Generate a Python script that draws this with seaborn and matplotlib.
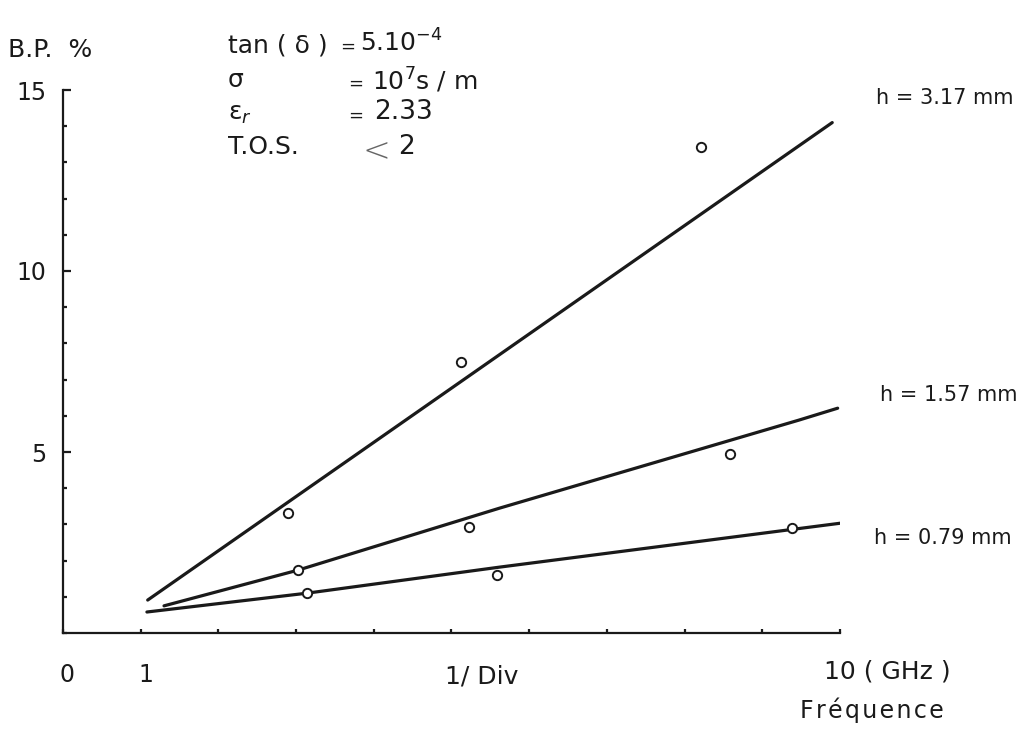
import matplotlib
matplotlib.use("Agg")
import matplotlib.pyplot as plt
from matplotlib.ticker import MultipleLocator
import seaborn as sns
import pandas as pd

# hand drawn trend lines (frequency in GHz, bandwidth in %)
thickness = ["h = 3.17 mm", "h = 1.57 mm", "h = 0.79 mm"]
line_f = [
    [1.09, 9.9],
    [1.3, 3.03, 5.62, 9.47, 9.97],
    [1.08, 3.14, 5.62, 10.03],
]
line_bp = [
    [0.91, 14.1],
    [0.75, 1.74, 3.45, 5.88, 6.21],
    [0.58, 1.10, 1.82, 3.04],
]

# measured points
meas_f = [
    [2.89, 5.12, 8.21],
    [3.03, 5.23, 8.59],
    [3.14, 5.59, 9.38],
]
meas_bp = [
    [3.31, 7.49, 13.43],
    [1.74, 2.93, 4.94],
    [1.10, 1.60, 2.90],
]

lines = pd.concat(
    [pd.DataFrame({"f": f, "bp": b, "h": h}) for f, b, h in zip(line_f, line_bp, thickness)],
    ignore_index=True,
)
pts = pd.concat(
    [pd.DataFrame({"f": f, "bp": b, "h": h}) for f, b, h in zip(meas_f, meas_bp, thickness)],
    ignore_index=True,
)

sns.set_style("white")
plt.rcParams["font.family"] = ["DejaVu Sans"]
plt.rcParams["mathtext.fontset"] = "dejavusans"
ink = "#1a1a1a"
plt.rcParams["text.color"] = ink

W, H = 1034, 730
fig = plt.figure(figsize=(W / 100, H / 100), dpi=100)
ax = fig.add_axes([63 / W, 97 / H, 777 / W, 543 / H])

sns.lineplot(data=lines, x="f", y="bp", hue="h", units="h", palette=[ink] * 3,
             estimator=None, sort=False, legend=False, linewidth=2.3, ax=ax)
sns.scatterplot(data=pts, x="f", y="bp", color="white", edgecolor=ink,
                s=45, linewidth=1.4, legend=False, zorder=3, ax=ax)

ax.set_xlim(0, 10)
ax.set_ylim(0, 15)
for s in ["top", "right"]:
    ax.spines[s].set_visible(False)
for s in ["left", "bottom"]:
    ax.spines[s].set_color(ink)
    ax.spines[s].set_linewidth(1.6)

ax.set_yticks([5, 10, 15])
ax.yaxis.set_minor_locator(MultipleLocator(1))
ax.set_xticks(range(0, 11))
ax.set_xticklabels([])
ax.tick_params(axis="y", which="major", direction="in", length=6, width=1.6,
               labelsize=17, pad=12, left=True, colors=ink)
ax.tick_params(axis="y", which="minor", direction="in", length=3, width=1.6, left=True, colors=ink)
ax.tick_params(axis="x", which="major", direction="in", length=3, width=1.6, bottom=True, colors=ink)
ax.set_xlabel("")
ax.set_ylabel("")


def px(x, y):
    return x / W, 1 - y / H


fs = 17
# x axis texts
fig.text(*px(67, 675), "0", fontsize=fs, ha="center", va="center")
fig.text(*px(146, 675), "1", fontsize=fs, ha="center", va="center")
fig.text(*px(482, 677), "1/ Div", fontsize=18, ha="center", va="center")
fig.text(*px(824, 672), "10 ( GHz )", fontsize=18, ha="left", va="center")
fig.text(*px(800, 710), "F\u200ar\u200aé\u200aq\u200au\u200ae\u200an\u200ac\u200ae",
         fontsize=17, ha="left", va="center")

# y axis title
fig.text(*px(8, 50), "B.P.  %", fontsize=18, ha="left", va="center")

# curve labels
fig.text(*px(876, 98), thickness[0], fontsize=15, ha="left", va="center")
fig.text(*px(880, 395), thickness[1], fontsize=15, ha="left", va="center")
fig.text(*px(874, 538), thickness[2], fontsize=15, ha="left", va="center")

# parameters block
pfs = 18
x0 = 228
fig.text(*px(x0, 45), "tan ( δ )", fontsize=pfs, ha="left", va="center")
fig.text(*px(340, 47), "=", fontsize=13, ha="left", va="center")
fig.text(*px(360, 43), r"5.10$^{-4}$", fontsize=pfs, ha="left", va="center")
fig.text(*px(x0, 80), "σ", fontsize=pfs, ha="left", va="center")
fig.text(*px(348, 84), "=", fontsize=13, ha="left", va="center")
fig.text(*px(372, 80), r"10$^{7}$s / m", fontsize=pfs, ha="left", va="center")
fig.text(*px(x0, 114), r"ε$_r$", fontsize=pfs, ha="left", va="center")
fig.text(*px(348, 116), "=", fontsize=13, ha="left", va="center")
fig.text(*px(374, 112), "2.33", fontsize=19, ha="left", va="center")
fig.text(*px(x0, 147), "T.O.S.", fontsize=pfs, ha="left", va="center")
fig.text(*px(362, 152), "<", fontsize=24, ha="left", va="center", color="#666666",
         fontweight="light")
fig.text(*px(398, 147), "2", fontsize=19, ha="left", va="center")

fig.savefig("out.png", dpi=100)
